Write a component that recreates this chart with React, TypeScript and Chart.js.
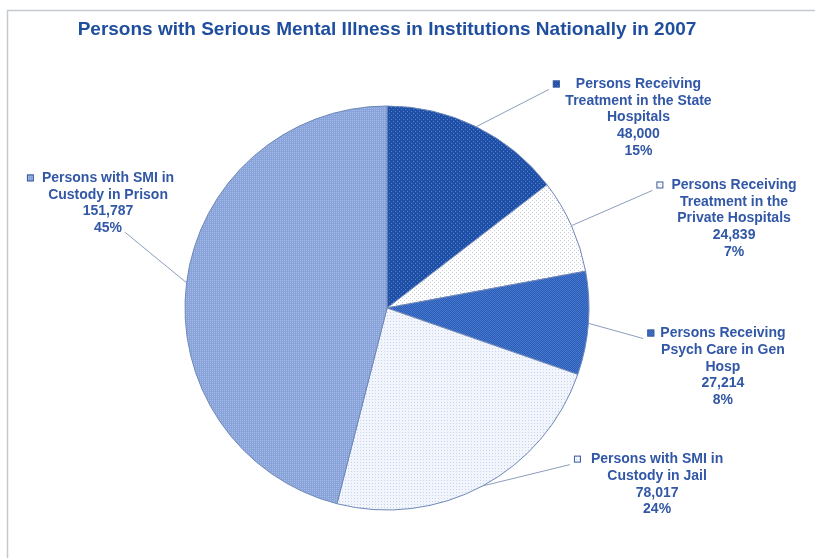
import React, { useEffect, useRef } from "react";
import { Chart, registerables } from "chart.js";
Chart.register(...registerables);

const chartTitle = "Persons with Serious Mental Illness in Institutions Nationally in 2007";
const categories: string[][] = [
  ["Persons Receiving", "Treatment in the State", "Hospitals"],
  ["Persons Receiving", "Treatment in the", "Private Hospitals"],
  ["Persons Receiving", "Psych Care in Gen", "Hosp"],
  ["Persons with SMI in", "Custody in Jail"],
  ["Persons with SMI in", "Custody in Prison"],
];
const values = [48000, 24839, 27214, 78017, 151787];
const percentLabels = ["15%", "7%", "8%", "24%", "45%"];

// label layout (relative to pie centre, in radius units) — styling only
const labelLayout = [
  { dx: 1.245, dy: -1.109, gap: 16, lineFrom: "marker" },
  { dx: 1.718, dy: -0.609, gap: 8, lineFrom: "marker" },
  { dx: 1.663, dy: 0.124, gap: 6, lineFrom: "marker" },
  { dx: 1.337, dy: 0.748, gap: 10, lineFrom: "marker" },
  { dx: -1.381, dy: -0.644, gap: 8, lineFrom: "bottom" },
];

const FONT = '"Liberation Sans", Arial, sans-serif';
const LABEL_COLOR = "#3157A6";

function makePattern(
  ctx: CanvasRenderingContext2D,
  size: number,
  bg: string,
  fg: string,
  cells: number[][]
) {
  const c = document.createElement("canvas");
  c.width = size;
  c.height = size;
  const g = c.getContext("2d")!;
  g.fillStyle = bg;
  g.fillRect(0, 0, size, size);
  g.fillStyle = fg;
  cells.forEach(([x, y]) => g.fillRect(x, y, 1, 1));
  return ctx.createPattern(c, "repeat")!;
}

export default function App() {
  const ref = useRef<HTMLCanvasElement | null>(null);

  useEffect(() => {
    document.body.style.margin = "0";
    const canvas = ref.current!;
    const ctx = canvas.getContext("2d")!;
    const fills = [
      makePattern(ctx, 4, "#1F50A6", "#4E80D6", [[1, 1], [3, 3]]),
      makePattern(ctx, 4, "#FFFFFF", "#C5CCDA", [[0, 0], [2, 2]]),
      makePattern(ctx, 2, "#2B5CB6", "#4677CE", [[0, 0], [1, 1]]),
      makePattern(ctx, 3, "#F2F5FB", "#C6D3EC", [[0, 0]]),
      makePattern(ctx, 2, "#88A3D9", "#A6BCE7", [[0, 0]]),
    ];

    const frame = {
      id: "frame",
      beforeDraw(chart: any) {
        const c = chart.ctx;
        c.save();
        c.fillStyle = "#FFFFFF";
        c.fillRect(0, 0, chart.width, chart.height);
        c.strokeStyle = "#C4C9CF";
        c.lineWidth = 1.5;
        c.beginPath();
        c.moveTo(7.5, chart.height);
        c.lineTo(7.5, 10.5);
        c.lineTo(chart.width, 10.5);
        c.stroke();
        c.restore();
      },
    };

    const labels = {
      id: "pieLabels",
      afterDatasetsDraw(chart: any) {
        const c = chart.ctx as CanvasRenderingContext2D;
        const meta = chart.getDatasetMeta(0);
        const lh = 16.8;
        c.save();
        c.font = `bold 14px ${FONT}`;
        c.textAlign = "center";
        c.textBaseline = "middle";
        meta.data.forEach((arc: any, i: number) => {
          const p = arc.getProps(["x", "y", "startAngle", "endAngle", "outerRadius"], true);
          const mid = (p.startAngle + p.endAngle) / 2;
          const ex = p.x + Math.cos(mid) * p.outerRadius;
          const ey = p.y + Math.sin(mid) * p.outerRadius;
          const lay = labelLayout[i];
          const tx = p.x + lay.dx * p.outerRadius;
          const ty = p.y + lay.dy * p.outerRadius;
          const lines = [
            ...categories[i],
            values[i].toLocaleString("en-US"),
            percentLabels[i],
          ];
          const w1 = c.measureText(lines[0]).width;
          const ms = 7;
          const mx = tx - w1 / 2 - lay.gap - ms;
          const my = ty - ms / 2;
          let lx: number, ly: number;
          if (lay.lineFrom === "marker") {
            lx = mx - 4;
            ly = my + ms + 2;
          } else {
            const wl = c.measureText(lines[lines.length - 1]).width;
            lx = tx + wl / 2 + 3;
            ly = ty + (lines.length - 1) * lh + 4;
          }
          c.strokeStyle = "#8D9DBC";
          c.lineWidth = 1;
          c.beginPath();
          c.moveTo(ex, ey);
          c.lineTo(lx, ly);
          c.stroke();
          c.fillStyle = fills[i];
          c.fillRect(mx, my, ms, ms);
          c.strokeStyle = "#3E5E9E";
          c.strokeRect(mx + 0.5, my + 0.5, ms - 1, ms - 1);
          c.fillStyle = LABEL_COLOR;
          lines.forEach((t, k) => c.fillText(t, tx, ty + k * lh));
        });
        c.restore();
      },
    };

    const chart = new Chart(canvas, {
      type: "pie",
      data: {
        labels: categories.map((l) => l.join(" ")),
        datasets: [
          {
            data: values,
            backgroundColor: fills as any,
            borderColor: "#6F88B9",
            borderWidth: 1,
          },
        ],
      },
      options: {
        responsive: false,
        animation: false,
        layout: { padding: { left: 0, right: 41, top: 0, bottom: 47.5 } },
        plugins: {
          legend: { display: false },
          tooltip: { enabled: false },
          title: {
            display: true,
            text: chartTitle,
            color: "#1F4E9E",
            font: { family: FONT, size: 19, weight: "bold" },
            padding: { top: 18.6, bottom: 64.1 },
          },
        },
      },
      plugins: [frame, labels],
    });
    return () => chart.destroy();
  }, []);

  return (
    <div style={{ width: 815, height: 558 }}>
      <canvas ref={ref} width={815} height={558} style={{ display: "block" }} />
    </div>
  );
}
